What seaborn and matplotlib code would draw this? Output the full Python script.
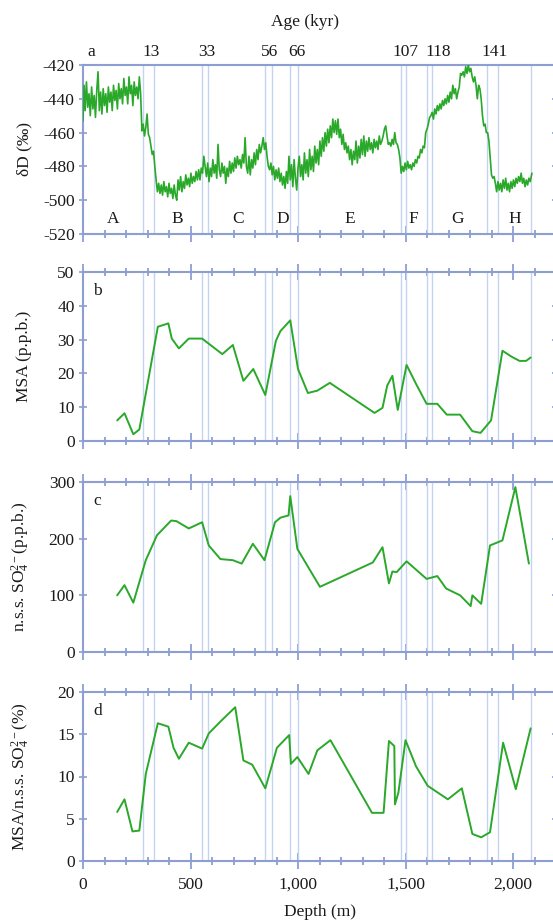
import numpy as np
import pandas as pd
import seaborn as sns
import matplotlib
matplotlib.use("Agg")
import matplotlib.pyplot as plt
from matplotlib.ticker import MultipleLocator, FuncFormatter

# ---------------- data ----------------
dD_depth = [0, 5, 10, 16, 22, 28, 34, 40, 46, 52, 58, 64, 70, 76, 82, 88, 94, 100, 106, 112, 118, 124, 130,
            136, 142, 148, 154, 160, 166, 172, 178, 184, 190, 196, 202, 208, 214, 220, 226, 232, 238, 244,
            250, 256, 262, 268,
            274, 280, 286, 292, 298, 304, 310, 316, 322, 328, 334, 340, 346, 352, 358,
            364, 370, 376, 382, 388, 394, 400, 406, 412, 418, 424, 430, 436, 442, 448, 454, 460, 466, 472,
            478, 484, 490, 496, 502, 508, 514, 520, 526, 532, 538, 544, 550, 556, 562, 568, 574, 580, 586,
            592, 598, 604, 610, 616, 622, 628, 634, 640, 646, 652, 658, 664, 670, 676, 682, 688, 694, 700,
            706, 712, 718, 724, 730, 736, 742, 748, 754, 760, 766, 772, 778, 784, 790, 796, 802, 808, 814,
            820, 826, 832, 838, 844, 850, 856, 862, 868, 874, 880, 886, 892, 898, 904, 910, 916, 922, 928,
            934, 940, 946, 952, 958, 964, 970, 976, 982, 988, 994, 1000, 1006, 1012, 1018, 1024, 1030,
            1036, 1042, 1048, 1054, 1060, 1066, 1072, 1078, 1084, 1090, 1096, 1102, 1108, 1114, 1120,
            1126, 1132, 1138, 1144, 1150, 1156, 1162, 1168, 1174, 1180, 1186, 1192, 1198, 1204, 1210,
            1216, 1222, 1228, 1234, 1240, 1246, 1252, 1258, 1264, 1270, 1276, 1282, 1288, 1294, 1300,
            1306, 1312, 1318, 1324, 1330, 1336, 1342, 1348, 1354, 1360, 1366, 1372, 1378, 1384, 1390,
            1396, 1402, 1408, 1414, 1420, 1426, 1432, 1438, 1444, 1450, 1456, 1462, 1468, 1474, 1480,
            1486, 1492, 1498, 1504, 1510, 1516, 1522, 1528, 1534, 1540, 1546, 1552, 1558, 1564, 1570,
            1576, 1582, 1588, 1594, 1600, 1606, 1612, 1618, 1624, 1630, 1636, 1642, 1648, 1654, 1660,
            1666, 1672, 1678, 1684, 1690, 1696, 1702, 1708, 1714, 1720, 1726, 1732, 1738, 1744, 1750,
            1756, 1762, 1768, 1774, 1780, 1786, 1792, 1798, 1804, 1810, 1816, 1822, 1828, 1834, 1840,
            1846, 1852, 1858, 1864, 1870, 1876, 1882, 1888, 1894, 1900, 1906, 1912, 1918, 1924, 1930,
            1936, 1942, 1948, 1954, 1960, 1966, 1972, 1978, 1984, 1990, 1996, 2002, 2008, 2014, 2020,
            2026, 2032, 2038, 2044, 2050, 2056, 2062, 2068, 2074, 2080, 2088]
dD_value = [-453, -432, -447, -430, -445, -437, -450, -433, -446, -438, -451, -435, -424, -447, -436, -449,
            -434, -444, -437, -448, -433, -442, -436, -447, -432, -441, -435, -446, -431, -440, -434, -443,
            -428, -438, -433, -443, -427, -437, -432, -444, -430, -438, -433, -440, -427, -437,
            -459, -455, -462, -457, -449, -461, -463, -468, -473, -471, -480, -488, -495, -490, -496,
            -491, -497, -489, -495, -492, -498, -490, -496, -493, -499, -491, -497, -500, -488, -494,
            -486, -495, -489, -493, -485, -491, -487, -492, -484, -490, -486, -489, -483, -488, -482,
            -488, -481, -484, -474, -480, -486, -478, -489, -481, -486, -476, -484, -479, -487, -467,
            -482, -486, -478, -484, -480, -490, -481, -486, -477, -484, -478, -483, -475, -481, -474,
            -479, -476, -481, -473, -478, -463, -480, -484, -474, -485, -476, -481, -472, -479, -470,
            -476, -467, -472, -468, -463, -470, -466, -474, -480, -482, -478, -485, -480, -488, -482,
            -487, -481, -489, -484, -491, -486, -493, -483, -490, -474, -488, -479, -492, -476, -487,
            -494, -481, -474, -486, -479, -488, -472, -484, -476, -486, -470, -482, -474, -483, -468,
            -478, -470, -479, -465, -474, -463, -471, -460, -468, -458, -466, -456, -463, -452, -460,
            -453, -461, -452, -463, -458, -467, -461, -470, -466, -472, -468, -476, -470, -479, -471,
            -476, -465, -478, -468, -475, -464, -473, -462, -474, -465, -471, -463, -470, -466, -472,
            -464, -469, -465, -470, -462, -467, -465, -462, -458, -456, -462, -467, -466, -468, -464,
            -467, -460, -466, -467, -470, -475, -484, -480, -483, -478, -482, -477, -481, -479, -482,
            -478, -480, -476, -478, -474, -475, -470, -472, -468, -469, -460, -458, -455, -451, -450,
            -448, -452, -446, -449, -444, -447, -443, -446, -441, -444, -440, -443, -438, -442, -436,
            -440, -432, -437, -434, -440, -436, -433, -425, -426, -424, -427, -421, -425, -420, -424,
            -422, -427, -430, -427, -432, -440, -432, -434, -440, -450, -456, -455, -460, -460, -465,
            -475, -485, -487, -486, -490, -495, -489, -494, -490, -495, -488, -493, -487, -494, -490,
            -495, -489, -493, -488, -492, -487, -490, -486, -489, -484, -490, -487, -492, -488, -491,
            -487, -489, -484]

msa_depth = [159, 193, 234, 262, 348, 397, 413, 446, 492, 554, 648, 697, 746, 792, 848, 897, 918, 964,
             1000, 1046, 1090, 1148, 1356, 1393, 1415, 1439, 1464, 1505, 1549, 1598, 1648, 1692, 1754,
             1811, 1849, 1898, 1951, 1992, 2030, 2061, 2082]
msa_value = [6.1, 8.2, 2.0, 3.4, 33.8, 34.8, 30.3, 27.4, 30.3, 30.3, 25.7, 28.4, 17.8, 21.3, 13.6, 29.6,
             32.5, 35.7, 21.3, 14.2, 14.9, 17.2, 8.3, 9.8, 16.4, 19.3, 9.2, 22.5, 16.9, 11.0, 11.0, 7.8,
             7.8, 2.9, 2.4, 6.1, 26.7, 25.0, 23.7, 23.7, 24.7]

so4_depth = [159, 193, 234, 292, 344, 410, 434, 492, 554, 585, 639, 697, 738, 790, 844, 893, 918, 956,
             964, 997, 1102, 1348, 1393, 1423, 1439, 1459, 1505, 1598, 1648, 1689, 1754, 1803, 1811,
             1852, 1893, 1951, 2011, 2074]
so4_value = [100, 118, 87, 162, 206, 232, 231, 218, 229, 188, 164, 162, 156, 191, 162, 229, 237, 241,
             275, 182, 115, 158, 185, 121, 142, 141, 160, 129, 134, 112, 100, 81, 100, 85, 188, 197,
             291, 156]

ratio_depth = [159, 193, 230, 262, 292, 348, 397, 421, 446, 492, 554, 585, 639, 708, 746, 787, 848,
               902, 959, 967, 997, 1049, 1090, 1151, 1344, 1398, 1423, 1448, 1451, 1467, 1500, 1549,
               1603, 1697, 1762, 1811, 1852, 1893, 1954, 2013, 2082]
ratio_value = [5.8, 7.3, 3.5, 3.6, 10.3, 16.3, 15.9, 13.4, 12.1, 14.0, 13.3, 15.1, 16.5, 18.2, 11.9,
               11.4, 8.6, 13.4, 14.9, 11.5, 12.3, 10.3, 13.1, 14.3, 5.7, 5.7, 14.2, 13.6, 6.7, 8.1,
               14.3, 11.2, 8.9, 7.3, 8.6, 3.2, 2.8, 3.4, 14.0, 8.5, 15.7]

boundaries = [280, 328, 555, 582, 848, 878, 965, 1002, 1478, 1503, 1598, 1625, 1878, 1932, 2084]
age_labels = ["13", "33", "56", "66", "107", "118", "141"]
age_label_depth = [316, 575, 870, 997, 1498, 1650, 1916]
stage_labels = ["A", "B", "C", "D", "E", "F", "G", "H"]
stage_depth = [140, 437, 721, 930, 1242, 1535, 1744, 2009]

# ---------------- style ----------------
sns.set_style("white")
plt.rcParams["font.family"] = ["Liberation Serif", "DejaVu Serif"]
plt.rcParams["mathtext.fontset"] = "custom"
plt.rcParams["mathtext.rm"] = "Liberation Serif"
plt.rcParams["mathtext.it"] = "Liberation Serif:italic"
plt.rcParams["mathtext.bf"] = "Liberation Serif:bold"
plt.rcParams["axes.unicode_minus"] = False

GREEN = "#2aa82a"
SPINE = "#8c9ed2"
VLINE = "#c3d4f2"
TXT = "#1a1a1a"
FS = 12.5

fig = plt.figure(figsize=(5.53, 9.23), dpi=100)
W, H = 553.0, 923.0
left_px, right_px = 83.0, 556.0
panels_px = [(65, 234), (272, 441), (482, 652), (692, 861)]
axes = []
for top, bot in panels_px:
    ax = fig.add_axes([left_px / W, (H - bot) / H, (right_px - left_px) / W, (bot - top) / H])
    axes.append(ax)

series = [
    (dD_depth, dD_value, (-520, -420), 20, "δD (‰)"),
    (msa_depth, msa_value, (0, 50), 10, "MSA (p.p.b.)"),
    (so4_depth, so4_value, (0, 300), 100, "n.s.s. SO$_4^{2-}$(p.p.b.)"),
    (ratio_depth, ratio_value, (0, 20), 5, "MSA/n.s.s. SO$_4^{2-}$(%)"),
]

for i, (ax, (xd, yd, ylim, ystep, ylab)) in enumerate(zip(axes, series)):
    for b in boundaries:
        ax.axvline(b, color=VLINE, lw=1.0, zorder=1)
    df = pd.DataFrame({"depth": xd, "val": yd})
    sns.lineplot(data=df, x="depth", y="val", ax=ax, color=GREEN,
                 lw=1.2 if i == 0 else 1.4, estimator=None, sort=False, zorder=3)
    ax.set_xlim(0, 2200)
    ax.set_ylim(*ylim)
    ax.yaxis.set_major_locator(MultipleLocator(ystep))
    ax.xaxis.set_major_locator(MultipleLocator(500))
    ax.xaxis.set_minor_locator(MultipleLocator(100))
    for s in ax.spines.values():
        s.set_color(SPINE)
        s.set_linewidth(1.5)
    ax.tick_params(axis="x", which="major", direction="inout", length=11, width=1.3,
                   color=SPINE, top=(i != 0), bottom=True, labelbottom=(i == 3),
                   labelsize=FS, labelcolor=TXT, pad=6)
    ax.tick_params(axis="x", which="minor", direction="inout", length=6, width=1.3,
                   color=SPINE, top=(i != 0), bottom=True)
    ax.tick_params(axis="y", which="major", direction="inout", length=6, width=1.2,
                   color=SPINE, left=True, right=True, labelsize=FS, labelcolor=TXT, pad=3)
    ax.set_ylabel(ylab, fontsize=FS, color=TXT)
    ax.yaxis.set_label_coords(-0.108, 0.5)
    ax.set_xlabel("")

axes[3].xaxis.set_major_formatter(FuncFormatter(lambda v, p: f"{int(v):,}"))
axes[3].set_xlabel("Depth (m)", fontsize=FS, color=TXT, labelpad=8)

# panel a annotations
a = axes[0]
for lab, d in zip(stage_labels, stage_depth):
    a.text(d, -511, lab, ha="center", va="center", fontsize=FS, color=TXT)
for lab, d in zip(age_labels, age_label_depth):
    a.text(d, 1.077, lab, transform=a.get_xaxis_transform(), ha="center", va="center",
           fontsize=FS, color=TXT)
a.text(37, 1.077, "a", transform=a.get_xaxis_transform(), ha="center", va="center",
       fontsize=FS, color=TXT)
a.text(1033, 1.255, "Age (kyr)", transform=a.get_xaxis_transform(), ha="center", va="center",
       fontsize=FS, color=TXT)

for ax, lab in zip(axes[1:], ["b", "c", "d"]):
    ax.text(0.022, 0.89, lab, transform=ax.transAxes, ha="left", va="center",
            fontsize=FS, color=TXT)

fig.savefig("out.png", dpi=100)
